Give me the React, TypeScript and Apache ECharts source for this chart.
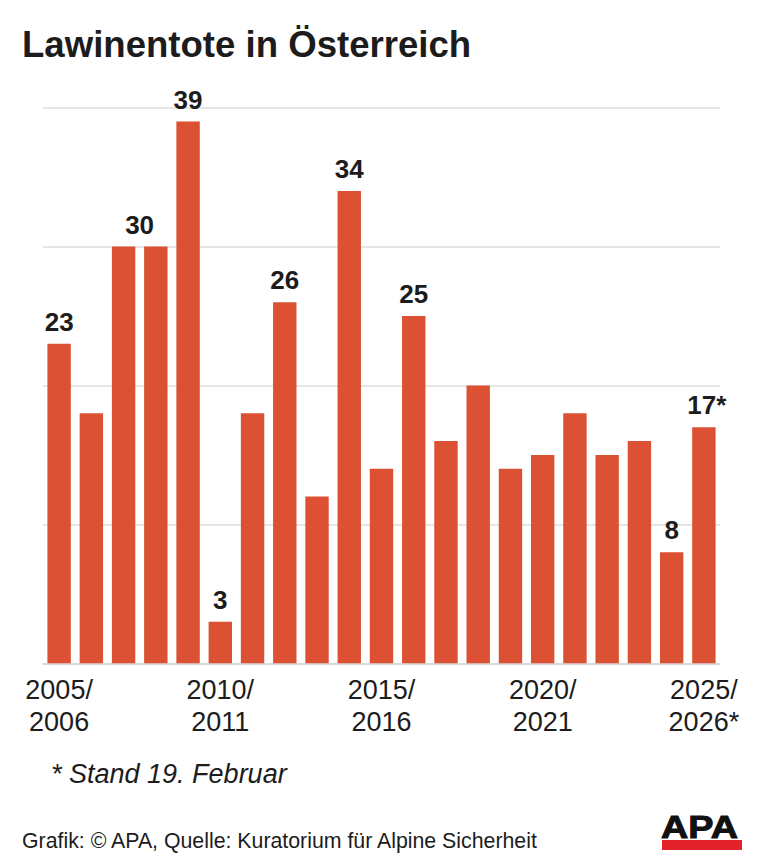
import React, { useEffect, useRef } from "react";
import * as echarts from "echarts";

const seasons = [
  "2005/2006", "2006/2007", "2007/2008", "2008/2009", "2009/2010",
  "2010/2011", "2011/2012", "2012/2013", "2013/2014", "2014/2015",
  "2015/2016", "2016/2017", "2017/2018", "2018/2019", "2019/2020",
  "2020/2021", "2021/2022", "2022/2023", "2023/2024", "2024/2025",
  "2025/2026*",
];
const deaths = [23, 18, 30, 30, 39, 3, 18, 26, 12, 34, 14, 25, 16, 20, 14, 15, 18, 15, 16, 8, 17];
const valueLabels = ["23", "", "30", "", "39", "3", "", "26", "", "34", "", "25", "", "", "", "", "", "", "", "8", "17*"];
const yTicks = [0, 10, 20, 30, 40];

const title = "Lawinentote in Österreich";
const footnote = "* Stand 19. Februar";
const source = "Grafik: © APA, Quelle: Kuratorium für Alpine Sicherheit";

const FONT = "'Liberation Sans', Arial, Helvetica, sans-serif";
const BAR = "#dc5034";
const TXT = "#1c1c1c";

export default function App() {
  const ref = useRef<HTMLDivElement>(null);
  useEffect(() => {
    if (!ref.current) return;
    const chart = echarts.init(ref.current, null, { renderer: "svg" });
    const data = deaths.map((v, i) => {
      const lbl = valueLabels[i];
      let offset = [0, 0];
      if (i === 2) offset = [16, 0];
      if (i === 20) offset = [3, 0];
      return {
        value: v,
        label: lbl
          ? { show: true, formatter: lbl, offset }
          : { show: false },
      };
    });
    chart.setOption({
      animation: false,
      backgroundColor: "#ffffff",
      textStyle: { fontFamily: FONT },
      grid: { left: 43, right: 43, top: 107.7, bottom: 197.7, containLabel: false },
      xAxis: {
        type: "category",
        data: seasons,
        axisLine: { show: true, lineStyle: { color: "#d4d4d4", width: 1.5 } },
        axisTick: { show: false },
        axisLabel: {
          interval: 4,
          margin: 11,
          fontFamily: FONT,
          fontSize: 27,
          lineHeight: 32,
          color: TXT,
          formatter: (s: string) => {
            const [a, b] = s.split("/");
            return `${a}/\n${b}`;
          },
        },
      },
      yAxis: {
        type: "value",
        min: yTicks[0],
        max: yTicks[yTicks.length - 1],
        interval: 10,
        axisLabel: { show: false },
        axisLine: { show: false },
        axisTick: { show: false },
        splitLine: { show: true, lineStyle: { color: "#dedede", width: 1.5 } },
      },
      series: [
        {
          type: "bar",
          data,
          barWidth: "72.6%",
          itemStyle: { color: BAR },
          label: {
            position: "top",
            distance: 9,
            fontFamily: FONT,
            fontSize: 26,
            fontWeight: "bold",
            color: TXT,
          },
        },
      ],
      graphic: [
        {
          type: "text",
          x: 22,
          y: 44.7,
          style: {
            text: title,
            font: `bold 36.6px ${FONT}`,
            fill: TXT,
            verticalAlign: "middle",
          },
        },
        {
          type: "text",
          x: 51,
          y: 774,
          style: {
            text: footnote,
            font: `italic 27px ${FONT}`,
            fill: TXT,
            verticalAlign: "middle",
          },
        },
        {
          type: "text",
          x: 22,
          y: 841,
          style: {
            text: source,
            font: `21.3px ${FONT}`,
            fill: TXT,
            verticalAlign: "middle",
          },
        },
        {
          type: "rect",
          shape: { x: 662, y: 840, width: 80, height: 10 },
          style: { fill: "#e3222b" },
        },
        {
          type: "text",
          x: 661,
          y: 843,
          scaleX: 1.18,
          style: {
            text: "APA",
            font: `900 32px ${FONT}`,
            fill: "#111111",
            stroke: "#111111",
            lineWidth: 1,
            verticalAlign: "bottom",
          },
        },
      ],
    });
    return () => chart.dispose();
  }, []);
  return (
    <div
      ref={ref}
      style={{ position: "fixed", left: 0, top: 0, width: 763, height: 861, background: "#fff" }}
    />
  );
}
